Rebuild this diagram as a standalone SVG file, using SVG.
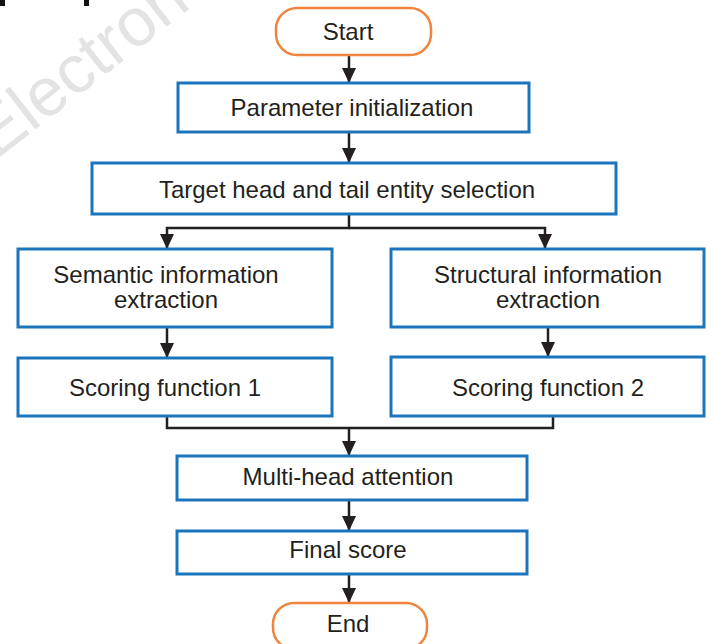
<svg xmlns="http://www.w3.org/2000/svg" width="709" height="644" viewBox="0 0 709 644">
<defs>
<style>
.box{fill:#fff;stroke:#1b75bc;stroke-width:3}
.term{fill:#fff;stroke:#f0843c;stroke-width:2.5}
.t{font-family:"Liberation Sans",Arial,sans-serif;font-size:24px;fill:#231f20;text-anchor:middle}
.c{fill:none;stroke:#231f20;stroke-width:2.5}
.wm{font-family:"Liberation Sans",Arial,sans-serif;font-size:68px;fill:#e3e3e3}
</style>
<marker id="ah" markerUnits="userSpaceOnUse" markerWidth="16" markerHeight="15" refX="15" refY="7" orient="auto">
<path d="M0,0 L15,7 L0,14 z" fill="#231f20"/>
</marker>
</defs>
<rect width="709" height="644" fill="#fff"/>
<text class="wm" transform="translate(-4,160) rotate(-38)">Electron</text>
<rect x="0" y="0" width="5" height="6" fill="#111"/>
<rect x="84" y="0" width="5" height="6" fill="#111"/>

<g id="connectors">
<line class="c" x1="349" y1="55" x2="349" y2="83" marker-end="url(#ah)"/>
<line class="c" x1="349" y1="132" x2="349" y2="163" marker-end="url(#ah)"/>
<polyline class="c" points="349,214 349,228 167,228 167,249" marker-end="url(#ah)"/>
<polyline class="c" points="349,228 545,228 545,249" marker-end="url(#ah)"/>
<line class="c" x1="167" y1="327" x2="167" y2="358" marker-end="url(#ah)"/>
<line class="c" x1="548" y1="327" x2="548" y2="357" marker-end="url(#ah)"/>
<polyline class="c" points="167,416 167,428 553,428 553,416"/>
<line class="c" x1="349" y1="428" x2="349" y2="456" marker-end="url(#ah)"/>
<line class="c" x1="349" y1="500" x2="349" y2="531" marker-end="url(#ah)"/>
<line class="c" x1="349" y1="574" x2="349" y2="603" marker-end="url(#ah)"/>
</g>

<g id="start">
<rect class="term" x="276" y="8" width="155" height="47" rx="21"/>
<text class="t" x="348" y="40">Start</text>
</g>
<g id="param">
<rect class="box" x="178" y="83" width="351" height="49"/>
<text class="t" x="352" y="116">Parameter initialization</text>
</g>
<g id="target">
<rect class="box" x="92" y="163" width="524" height="51"/>
<text class="t" x="347" y="198">Target head and tail entity selection</text>
</g>
<g id="semantic">
<rect class="box" x="18" y="249" width="314" height="78"/>
<text class="t" x="166" y="283">Semantic information</text>
<text class="t" x="166" y="308">extraction</text>
</g>
<g id="structural">
<rect class="box" x="391" y="249" width="313" height="78"/>
<text class="t" x="548" y="283">Structural information</text>
<text class="t" x="548" y="308">extraction</text>
</g>
<g id="scoring1">
<rect class="box" x="18" y="358" width="314" height="58"/>
<text class="t" x="165" y="396">Scoring function 1</text>
</g>
<g id="scoring2">
<rect class="box" x="391" y="357" width="313" height="59"/>
<text class="t" x="548" y="396">Scoring function 2</text>
</g>
<g id="multihead">
<rect class="box" x="177" y="456" width="350" height="44"/>
<text class="t" x="348" y="485">Multi-head attention</text>
</g>
<g id="final">
<rect class="box" x="177" y="531" width="350" height="43"/>
<text class="t" x="348" y="558">Final score</text>
</g>
<g id="end">
<rect class="term" x="273" y="603" width="154" height="46" rx="21"/>
<text class="t" x="348" y="632">End</text>
</g>
</svg>
